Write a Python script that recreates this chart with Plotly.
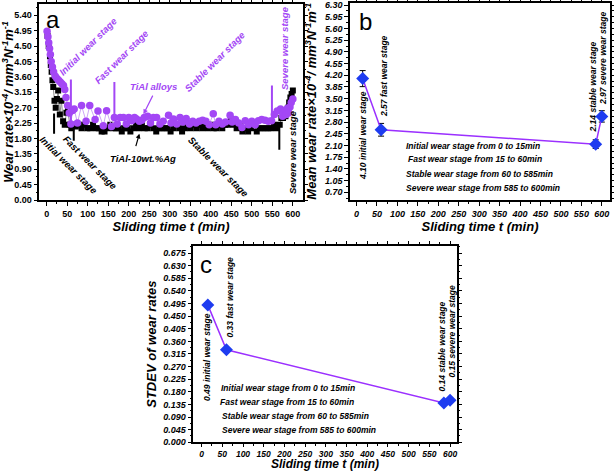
import plotly.graph_objects as go

# ---------------- data ----------------
# Panel a: TiAl alloys (purple circles)
tial_t = [1, 3, 5, 7, 9, 11, 14, 17, 21, 25, 29, 33, 37, 41, 44, 47, 51, 55, 59,
          63, 67, 75, 85, 96, 105, 118, 125, 138, 146, 158, 165,
          172, 179, 187, 194, 200, 207, 214, 219, 226, 232, 238, 246, 253, 260, 268,
          276, 284, 297, 303, 309, 317, 325, 332, 340, 348, 356, 364, 372, 380, 388,
          396, 406, 412, 420, 428, 436, 447, 452, 460, 468, 476, 484, 492, 500, 508,
          516, 524, 532, 540, 548, 555, 562, 570, 575, 578, 581, 584, 587, 590, 593,
          596, 600]
tial_v = [4.93, 4.77, 4.60, 4.43, 4.25, 4.05, 3.89, 3.74, 3.62, 3.55, 3.50, 3.45, 3.40, 3.35, 3.23,
          3.00, 2.76, 2.54, 2.22, 2.62, 2.66, 2.25, 2.76, 2.30, 2.76, 2.35, 2.60, 2.17, 2.61, 2.15, 2.41,
          2.22, 2.41, 2.41, 2.22, 2.41, 2.32, 2.41, 2.37, 2.30, 2.33, 2.41, 2.45, 2.25, 2.41, 2.41,
          2.22, 2.30, 2.48, 2.25, 2.37, 2.22, 2.41, 2.28, 2.38, 2.22, 2.30, 2.25, 2.30, 2.33, 2.30,
          2.20, 2.52, 2.20, 2.30, 2.22, 2.28, 2.48, 2.28, 2.35, 2.25, 2.12, 2.32, 2.20, 2.30, 2.20,
          2.32, 2.35, 2.33, 2.30, 2.32, 2.50, 2.60, 2.66, 2.45, 2.55, 2.62, 2.50, 2.68, 2.55, 2.72,
          2.85, 2.95, 2.55, 3.10, 3.30][:93]

# Panel a: TiAl-10wt.%Ag (black squares)
ag_t = [2, 5, 8, 10, 12, 14, 16, 19, 22, 25, 28, 32, 36, 40, 44, 48, 52, 56, 60,
        64, 71, 78, 85, 92, 99, 106, 113, 120, 127, 134, 141, 148, 155, 162, 169, 176, 183,
        190, 197, 204, 211, 218, 225, 232, 239, 246, 253, 260, 267, 274, 281, 288, 295, 302,
        309, 316, 323, 330, 337, 344, 351, 358, 365, 372, 379, 386, 393, 400, 407, 414, 421,
        428, 435, 442, 449, 456, 463, 470, 477, 484, 491, 498, 505, 512, 519, 526, 533, 540,
        547, 554, 561, 568, 572, 576, 579, 582, 585, 588, 591, 594, 597, 600]
ag_v = [4.80, 4.50, 4.20, 3.95, 3.75, 3.50, 3.30, 2.90, 2.70, 2.95, 3.20, 2.50, 2.90, 2.30, 2.20,
        2.55, 2.60, 2.20, 2.10,
        2.20, 2.15, 2.20, 2.10, 2.20, 2.10, 2.10, 2.20, 2.10, 2.10, 2.00, 2.00, 2.10, 2.20, 2.10,
        2.10, 2.10, 2.00, 2.10, 2.10, 2.00, 2.10, 2.20, 2.10, 2.20, 2.10, 2.10, 2.20, 2.10, 2.00,
        2.10, 2.10, 2.10, 2.10, 2.00, 2.10, 2.20, 2.10, 2.00, 2.10, 2.20, 2.10, 2.20, 2.10, 2.20,
        2.10, 2.20, 2.10, 2.20, 2.10, 2.10, 2.20, 2.10, 2.20, 2.20, 2.35, 2.20, 2.10, 2.20, 2.00,
        2.10, 2.00, 2.10, 2.20, 2.00, 2.10, 2.10, 2.10, 2.10, 2.10, 2.20, 2.10,
        2.20, 2.40, 2.40, 2.50, 2.45, 2.60, 2.70, 2.85, 3.00, 3.10, 3.20]

# Stage marker lines in panel a
purple_mark_t = [59, 165, 549]
purple_mark_lo = [2.23, 2.51, 2.32]
purple_mark_hi = [3.52, 3.45, 3.35]
black_mark_t = [18, 66, 567]
black_mark_lo = [1.94, 1.73, 1.47]
black_mark_hi = [2.53, 2.09, 2.15]

# Panel b / c: stage statistics
stage_t = [15, 60, 585, 600]
mean_rate = [4.10, 2.57, 2.14, 2.97]
mean_err = [0.24, 0.19, 0.13, 0.17]
stdev_rate = [0.49, 0.33, 0.14, 0.15]

x_ticks = [0, 50, 100, 150, 200, 250, 300, 350, 400, 450, 500, 550, 600]
ya_ticks = [0.00, 0.45, 0.90, 1.35, 1.80, 2.25, 2.70, 3.15, 3.60, 4.05, 4.50, 4.95, 5.40]
yb_ticks = [0.70, 1.05, 1.40, 1.75, 2.10, 2.45, 2.80, 3.15, 3.50, 3.85, 4.20, 4.55, 4.90,
            5.25, 5.60, 5.95, 6.30]
yc_ticks = [0.000, 0.045, 0.090, 0.135, 0.180, 0.225, 0.270, 0.315, 0.360, 0.405, 0.450,
            0.495, 0.540, 0.585, 0.630, 0.675]

W, H = 614, 471
FONT = "Arial, Liberation Sans, sans-serif"
PURPLE = "#a347f5"
PURPLE_LINE = "#cda6f5"
LINE_BC = "#9b30ff"
BLUE = "#1e3cf0"


def px(x):
    return x / W


def py(y):
    return 1 - y / H


fig = go.Figure()

# Panel a traces
fig.add_trace(go.Scatter(x=ag_t, y=ag_v, mode="lines+markers",
                         line=dict(color="#8c8c8c", width=1),
                         marker=dict(symbol="square", size=6, color="black"),
                         xaxis="x", yaxis="y", showlegend=False))
fig.add_trace(go.Scatter(x=tial_t, y=tial_v, mode="lines+markers",
                         line=dict(color=PURPLE_LINE, width=1),
                         marker=dict(symbol="circle", size=7.5, color=PURPLE),
                         xaxis="x", yaxis="y", showlegend=False))

# Panel b
fig.add_trace(go.Scatter(x=stage_t, y=mean_rate, mode="lines+markers",
                         line=dict(color=LINE_BC, width=1.5),
                         marker=dict(symbol="diamond", size=10, color=BLUE),
                         error_y=dict(type="data", array=mean_err, color="black",
                                      thickness=1, width=3),
                         xaxis="x2", yaxis="y2", showlegend=False))

# Panel c
fig.add_trace(go.Scatter(x=stage_t, y=stdev_rate, mode="lines+markers",
                         line=dict(color=LINE_BC, width=1.5),
                         marker=dict(symbol="diamond", size=10, color=BLUE),
                         xaxis="x3", yaxis="y3", showlegend=False))

shapes = []
for t, lo, hi in zip(purple_mark_t, purple_mark_lo, purple_mark_hi):
    shapes.append(dict(type="line", xref="x", yref="y", x0=t, x1=t, y0=lo, y1=hi,
                       line=dict(color=PURPLE, width=2)))
for t, lo, hi in zip(black_mark_t, black_mark_lo, black_mark_hi):
    shapes.append(dict(type="line", xref="x", yref="y", x0=t, x1=t, y0=lo, y1=hi,
                       line=dict(color="black", width=2)))

tickfont_a = dict(family=FONT, size=9, color="black", weight="bold")
tickfont_bc = dict(family=FONT, size=9, color="black", weight="bold", style="italic")
tickfont_c_x = dict(family=FONT, size=8.5, color="black", weight="bold", style="italic")
titlefont = dict(family=FONT, size=13, color="black", weight="bold", style="italic")


def axis(domain, rng, tickvals, fmt, anchor, tf, title=None, minor_dtick=None,
         standoff=4, ticklen=4, tsize=13):
    d = dict(domain=domain, range=rng, tickvals=tickvals, tickformat=fmt, anchor=anchor,
             showline=True, linecolor="black", linewidth=1.5, mirror="allticks",
             ticks="outside", ticklen=ticklen, tickwidth=1, tickcolor="black",
             showgrid=False, zeroline=False, tickfont=tf, automargin=False)
    if title:
        tfnt = dict(titlefont)
        tfnt["size"] = tsize
        d["title"] = dict(text=title, font=tfnt, standoff=standoff)
    if minor_dtick:
        d["minor"] = dict(dtick=minor_dtick, ticks="outside", ticklen=2,
                          tickcolor="black", showgrid=False)
    return d


ytitle_a = "Wear rate×10<sup>-4</sup>/ mm<sup>3</sup>N<sup>-1</sup>m<sup>-1</sup>"
ytitle_b = "Mean wear rate×10<sup>-4</sup>/ mm<sup>3</sup>N<sup>-1</sup>m<sup>-1</sup>"
xtitle = "Sliding time t (min)"

layout = dict(
    width=W, height=H, margin=dict(l=0, r=0, t=0, b=0),
    paper_bgcolor="white", plot_bgcolor="white",
    xaxis=axis([px(39.3), px(302.7)], [-18, 624], x_ticks, "d", "y", tickfont_a,
               xtitle, 25),
    yaxis=axis([py(200), py(4)], [0, 5.73], ya_ticks, ".2f", "x", tickfont_a,
               ytitle_a, 0.225),
    xaxis2=axis([px(350), px(610)], [-16, 620], x_ticks, "d", "y2", tickfont_bc,
                xtitle, 25),
    yaxis2=axis([py(200), py(2.7)], [0.47, 6.37], yb_ticks, ".2f", "x2", tickfont_bc,
                ytitle_b, 0.175),
    xaxis3=axis([px(193.3), px(456.7)], [-20, 616], x_ticks, "d", "y3", tickfont_c_x,
                xtitle, 25, standoff=1, ticklen=3, tsize=12),
    yaxis3=axis([py(442.3), py(246)], [0, 0.70], yc_ticks, ".3f", "x3", tickfont_bc,
                "STDEV of wear rates", 0.0225),
    shapes=shapes,
)
fig.update_layout(**layout)


def note(text, x, y, color="black", angle=0, size=9.5, bold=True, italic=True,
         family=FONT):
    f = dict(family=family, size=size, color=color)
    if bold:
        f["weight"] = "bold"
    if italic:
        f["style"] = "italic"
    fig.add_annotation(text=text, x=px(x), y=py(y), xref="paper", yref="paper",
                       showarrow=False, textangle=angle, font=f,
                       xanchor="center", yanchor="middle")


# panel letters
note("a", 53, 20, size=24, bold=False, italic=False)
note("b", 365, 22, size=24, bold=False, italic=False)
note("c", 206, 264, size=24, bold=False, italic=False)

# panel a purple texts
note("Initial wear stage", 88, 47, PURPLE, -45, 9.5)
note("Fast wear stage", 122, 57, PURPLE, -45, 9.5)
note("Stable wear stage", 215, 62, PURPLE, -45, 9.5)
note("Severe wear stage", 285, 48, PURPLE, -90, 9.5)
note("TiAl alloys", 153, 87, PURPLE, 0, 9.5)
# panel a black texts
note("Initial wear stage", 68, 165, "black", 45, 9.5)
note("Fast wear stage", 90, 163, "black", 45, 9.5)
note("Stable wear stage", 218, 167, "black", 45, 9.5)
note("Severe wear stage", 293, 152, "black", -90, 9.5)
note("TiAl-10wt.%Ag", 143, 159, "black", 0, 9.5)

# arrows in panel a
fig.add_annotation(x=236, y=2.51, xref="x", yref="y", ax=10, ay=-20, text="",
                   showarrow=True, arrowhead=2, arrowsize=0.8, arrowwidth=1.2,
                   arrowcolor=PURPLE)
fig.add_annotation(x=226, y=1.94, xref="x", yref="y", ax=-4, ay=14, text="",
                   showarrow=True, arrowhead=2, arrowsize=0.8, arrowwidth=1.2,
                   arrowcolor="black")

# panel b texts
note("4.10 initial wear stage", 363, 136, "black", -90, 8.5)
note("2.57 fast wear stage", 384, 76, "black", -90, 8.5)
note("2.14 stable wear stage", 592.5, 87, "black", -90, 8.5)
note("2.97 severe wear stage", 603, 59, "black", -90, 8.5)
note("Initial wear stage from 0 to 15min", 473, 146, "black", 0, 8.5)
note("Fast wear stage from 15 to 60min", 475, 159, "black", 0, 8.5)
note("Stable wear stage from 60 to 585min", 479, 174, "black", 0, 8.5)
note("Severe wear stage from 585 to 600min", 483, 188, "black", 0, 8.5)

# panel c texts
note("0.49 initial wear stage", 207, 357, "black", -90, 8.5)
note("0.33 fast wear stage", 229.5, 297, "black", -90, 8.5)
note("0.14 stable wear stage", 441.5, 347, "black", -90, 8.5)
note("0.15 severe wear stage", 451.5, 332, "black", -90, 8.5)
note("Initial wear stage from 0 to 15min", 288, 388, "black", 0, 8.5)
note("Fast wear stage from 15 to 60min", 287, 402, "black", 0, 8.5)
note("Stable wear stage from 60 to 585min", 295, 416, "black", 0, 8.5)
note("Severe wear stage from 585 to 600min", 299, 430, "black", 0, 8.5)

fig.write_html(
    "out.html",
    config={"displayModeBar": False},
    post_script="document.body.style.margin='0';document.body.style.overflow='hidden';",
)
